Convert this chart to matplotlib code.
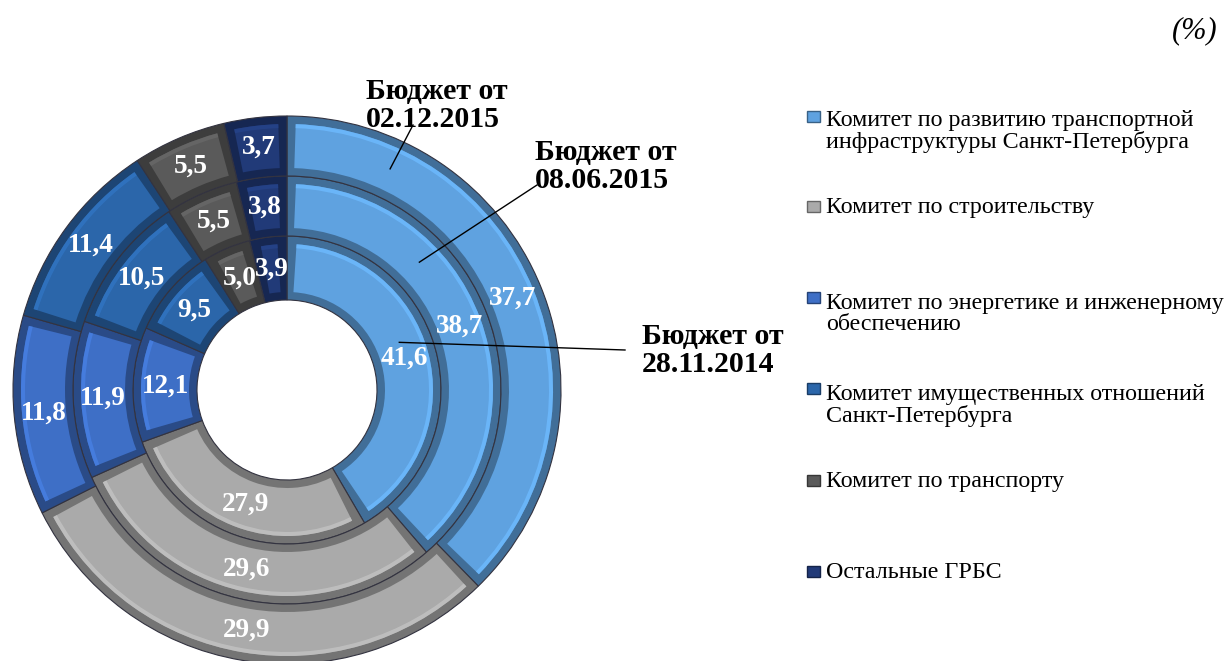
"""Concentric donut: budget structure by main spending units."""

import numpy as np
import matplotlib.pyplot as plt
from matplotlib.patches import Wedge, Rectangle
from matplotlib.colors import to_rgb

plt.rcParams["font.family"] = ["Liberation Serif", "DejaVu Serif"]

# Data (shares, %), clockwise from 12 o'clock
categories = [
    "Комитет по развитию транспортной\nинфраструктуры Санкт-Петербурга",
    "Комитет по строительству",
    "Комитет по энергетике и инженерному\nобеспечению",
    "Комитет имущественных отношений\nСанкт-Петербурга",
    "Комитет по транспорту",
    "Остальные ГРБС",
]
budget_2014_11_28 = [41.6, 27.9, 12.1, 9.5, 5.0, 3.9]   # inner ring
budget_2015_06_08 = [38.7, 29.6, 11.9, 10.5, 5.5, 3.8]  # middle ring
budget_2015_12_02 = [37.7, 29.9, 11.8, 11.4, 5.5, 3.7]  # outer ring
ring_names = ["Бюджет от\n28.11.2014", "Бюджет от\n08.06.2015", "Бюджет от\n02.12.2015"]

colors = ["#5fa2e0", "#aaaaaa", "#3e6fc6", "#2b66aa", "#5a5a5a", "#213a78"]

W, H = 1228, 661
cx, cy = 287, H - 390


def shade(c, f):
    r, g, b = to_rgb(c)
    return (min(r * f, 1), min(g * f, 1), min(b * f, 1))


def top(y):
    return H - y


fig = plt.figure(figsize=(W / 100, H / 100), dpi=100)
ax = fig.add_axes([0, 0, 1, 1])

rings = [
    (budget_2014_11_28, 154, 64),
    (budget_2015_06_08, 214, 60),
    (budget_2015_12_02, 274, 60),
]
bevel = 8
for values, radius, width in rings:
    wedges, _ = ax.pie(values, radius=radius, center=(cx, cy), startangle=90,
                       counterclock=False, colors=[shade(c, 0.68) for c in colors],
                       wedgeprops=dict(width=width, edgecolor=(0.2, 0.2, 0.25), linewidth=0.8))
    for w, c, v in zip(wedges, colors, values):
        rmid = radius - width / 2
        dth = np.degrees(bevel / rmid)
        # bevelled face
        ax.add_patch(Wedge((cx, cy), radius - bevel, w.theta1 + dth, w.theta2 - dth,
                           width=width - 2 * bevel, facecolor=c, edgecolor="none"))
        ax.add_patch(Wedge((cx, cy), radius - bevel, w.theta1 + dth, w.theta2 - dth,
                           width=4, facecolor=shade(c, 1.15), edgecolor="none", alpha=0.8))
        mid = np.radians((w.theta1 + w.theta2) / 2)
        ax.text(cx + rmid * np.cos(mid), cy + rmid * np.sin(mid), f"{v:.1f}".replace(".", ","),
                ha="center", va="center", color="white", fontsize=19.5, fontweight="bold")

# ring callouts (text position = baseline of last line)
callouts = [
    (154, 64, 23, (642, 372), (625, 350)),
    (214, 60, 44, (535, 188), (537, 185)),
    (274, 60, 65, (366, 127), (413, 125)),
]
for (radius, width, ang, txt_pos, line_end), name in zip(callouts, ring_names):
    rmid = radius - width / 2
    px, py = cx + rmid * np.cos(np.radians(ang)), cy + rmid * np.sin(np.radians(ang))
    ax.plot([px, line_end[0]], [py, top(line_end[1])], color="black", linewidth=1)
    ax.text(txt_pos[0], top(txt_pos[1]), name, ha="left", va="baseline",
            fontsize=21.5, fontweight="bold", linespacing=1.05)

# legend (marker at first line baseline, text at last line baseline)
legend_y = [123, 213, 304, 395, 487, 578]
legend_last = [148, 213, 330, 422, 487, 578]
for name, c, y, yl in zip(categories, colors, legend_y, legend_last):
    ax.add_patch(Rectangle((807, top(y) + 1), 13, 11, facecolor=c,
                           edgecolor=shade(c, 0.6), linewidth=1))
    ax.text(826, top(yl), name, ha="left", va="baseline", fontsize=17.3, linespacing=0.98)

ax.text(1218, top(38), "(%)", ha="right", va="baseline", fontsize=22, style="italic")

ax.set_xlim(0, W)
ax.set_ylim(0, H)
ax.set_aspect("auto")
ax.axis("off")

plt.savefig("out.png", dpi=100)
plt.close()
